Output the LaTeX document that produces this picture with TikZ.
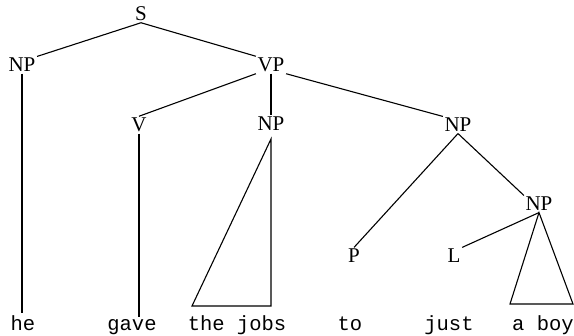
\documentclass[tikz,border=0pt]{standalone}
\usepackage{fontspec}
\setmainfont{Liberation Serif}
\newfontfamily\wordfont{Liberation Mono}
\begin{document}
\begin{tikzpicture}[x=1pt,y=-1pt,
  lab/.style={font=\fontsize{21}{21}\selectfont, inner sep=1.5pt},
  word/.style={font=\wordfont\fontsize{20.5}{20.5}\selectfont, anchor=base, inner sep=3pt},
  edge/.style={line width=1.1pt, line join=miter}]
\useasboundingbox (0,0) rectangle (574,336);
% category labels
\node[lab] (S) at (141,14) {S};
\node[lab] (NPa) at (22,65) {NP};
\node[lab] (VP) at (271,65) {VP};
\node[lab] (V) at (139,125) {V};
\node[lab] (NPm) at (271,124) {NP};
\node[lab] (NPr) at (458,125) {NP};
\node[lab] (NPl) at (539,204) {NP};
\node[lab] (P) at (354,256) {P};
\node[lab] (L) at (454,256) {L};
% words
\node[word] (he) at (23,331) {he};
\node[word] (gave) at (132,331) {gave};
\node[word] (jobs) at (237,331) {the jobs};
\node[word] (to) at (350,331) {to};
\node[word] (just) at (449,331) {just};
\node[word] (boy) at (543,331) {a boy};
% triangle corners
\coordinate (mL) at (192,306);
\coordinate (mR) at (271,306);
\coordinate (mA) at (271,139);
\coordinate (bL) at (510,304);
\coordinate (bR) at (573,304);
% connectors
\draw[edge] (S.south) -- (NPa.north east);
\draw[edge] (S.south) -- (VP.north west);
\draw[edge] (NPa.south) -- (NPa.south |- he.north);
\draw[edge] (VP.south west) -- (V.north);
\draw[edge] (VP.south) -- (NPm.north);
\draw[edge] (VP.south east) -- (NPr.north west);
\draw[edge] (V.south) -- (V.south |- gave.north);
\draw[edge] (mA) -- (mR) -- (mL) -- cycle;
\draw[edge] (NPr.south) -- (P.north);
\draw[edge] (NPr.south) -- (NPl.north west);
\draw[edge] (NPl.south) -- (L.north east);
\draw[edge] (NPl.south) -- (bR) -- (bL) -- cycle;
\end{tikzpicture}
\end{document}
